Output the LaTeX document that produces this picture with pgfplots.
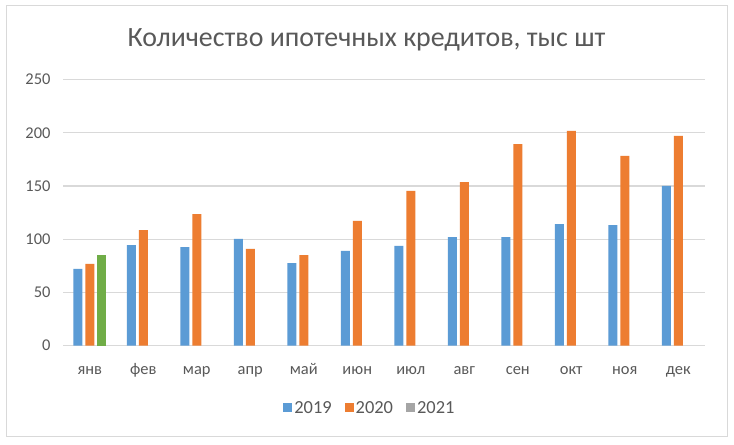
\documentclass[border=0pt]{standalone}
\usepackage{fontspec}
\setmainfont{Carlito}
\usepackage{pgfplots}
\pgfplotsset{compat=1.18}
\definecolor{cblue}{HTML}{5B9BD5}
\definecolor{corange}{HTML}{ED7D31}
\definecolor{cgray}{HTML}{A5A5A5}
\definecolor{cgreen}{HTML}{70AD47}
\definecolor{ctext}{HTML}{595959}
\definecolor{cgrid}{HTML}{D9D9D9}
\begin{document}
\begin{tikzpicture}[x=1bp,y=1bp]
\useasboundingbox (0,0) rectangle (734,445);
\fill[white] (0,0) rectangle (734,445);
\draw[cgrid,line width=1bp] (6,8) rectangle (727,439);
\node[text=ctext,font=\fontsize{28}{32}\selectfont] at (366.5,405) {Количество ипотечных кредитов, тыс шт};
\begin{axis}[
  at={(63bp,99.3bp)}, anchor=south west,
  scale only axis, width=642bp, height=266bp,
  xmin=-0.5, xmax=11.5, ymin=0, ymax=250,
  ytick={0,50,...,250},
  xtick={0,...,11},
  xticklabels={янв,фев,мар,апр,май,июн,июл,авг,сен,окт,ноя,дек},
  axis line style={draw=none},
  major tick length=0pt,
  ymajorgrids, major grid style={cgrid,line width=1.2bp},
  tick label style={text=ctext,font=\fontsize{16.5}{19}\selectfont},
  /pgf/number format/assume math mode=true,
  yticklabel style={xshift=-9bp},
  xticklabel style={yshift=-14bp, text height=11bp, text depth=4bp},
  ybar, bar width=9bp,
  legend columns=3,
  legend style={draw=none, fill=none, at={(axis description cs:0.478,-0.234)}, anchor=center,
    font=\fontsize{18.5}{21}\selectfont, text=ctext,
    /tikz/every even column/.append style={column sep=11bp},
    nodes={inner sep=2bp}},
  legend image code/.code={\fill[#1] (0bp,-4.5bp) rectangle (9bp,4.5bp);},
]
\addplot[fill=cblue, draw=none, bar shift=-12bp] coordinates {
 (0,72.1) (1,94.6) (2,92.7) (3,100.3) (4,77.7) (5,89.0)
 (6,93.7) (7,102.1) (8,102.1) (9,114.3) (10,113.4) (11,150.1)};
\addplot[fill=corange, draw=none, bar shift=0bp] coordinates {
 (0,76.8) (1,108.7) (2,123.7) (3,90.9) (4,85.2) (5,117.2)
 (6,145.4) (7,153.8) (8,189.5) (9,201.8) (10,178.3) (11,197.1)};
\addplot[fill=cgreen, draw=none, bar shift=12bp, forget plot] coordinates {(0,85.2)};
\addlegendimage{fill=cgray, draw=none}
\legend{2019,2020,2021}
\end{axis}
\end{tikzpicture}
\end{document}
